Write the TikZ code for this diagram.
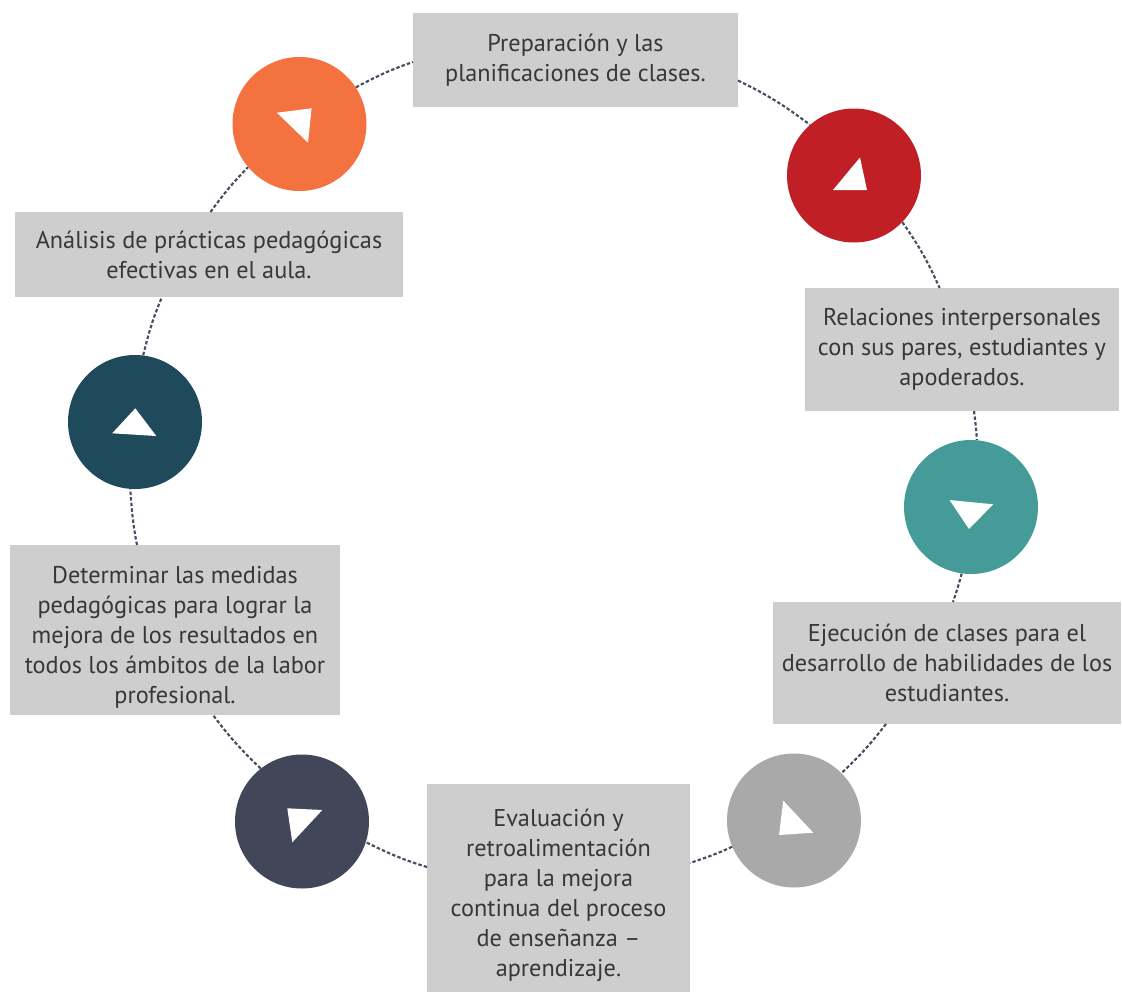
\documentclass[tikz,border=0pt]{standalone}
\usepackage{fontspec}
\setmainfont{PT Sans}
\definecolor{corange}{RGB}{243,114,64}
\definecolor{cred}{RGB}{192,31,38}
\definecolor{cteal}{RGB}{68,155,152}
\definecolor{cgray}{RGB}{169,169,169}
\definecolor{cnavy}{RGB}{65,71,88}
\definecolor{cdark}{RGB}{31,74,91}
\definecolor{cbox}{RGB}{206,206,206}
\definecolor{ctext}{RGB}{55,55,55}
\definecolor{cdash}{RGB}{70,77,96}
\newcommand{\toppad}{\rule{0pt}{24pt}}
\tikzset{
  dot/.style={circle, minimum size=134*0.75pt, inner sep=0pt, draw=none},
  infobox/.style={rectangle, fill=cbox, inner sep=0pt, align=center, text=ctext,
    font=\fontsize{18.2}{22.5}\selectfont},
  link/.style={draw=cdash, line width=1.6pt, dash pattern=on 2.6pt off 1.6pt},
  tri/.style={fill=white}
}
\begin{document}
\begin{tikzpicture}[x=0.75pt,y=0.75pt]
\useasboundingbox (0,0) rectangle (1122,-992);
% circles
\node[dot, fill=corange] (orange) at (299.5,-124) {};
\node[dot, fill=cred]    (red)    at (854,-175.5) {};
\node[dot, fill=cteal]   (teal)   at (971,-507) {};
\node[dot, fill=cgray]   (gray)   at (794,-820.5) {};
\node[dot, fill=cnavy]   (navy)   at (302,-821.5) {};
\node[dot, fill=cdark]   (dark)   at (135,-422) {};
% boxes
\node[infobox, minimum width=325*0.75pt, minimum height=94*0.75pt] (prep) at (575.5,-60)
  {Preparación y las\\planificaciones de clases.};
\node[infobox, minimum width=314*0.75pt, minimum height=123*0.75pt] (rel) at (962,-349.5)
  {Relaciones interpersonales\\con sus pares, estudiantes y\\apoderados.};
\node[infobox, minimum width=348*0.75pt, minimum height=122*0.75pt] (ejec) at (947,-663)
  {Ejecución de clases para el\\desarrollo de habilidades de los\\estudiantes.};
\node[infobox, minimum width=263*0.75pt, minimum height=208*0.75pt] (eval) at (558.5,-888)
  {\toppad Evaluación y\\retroalimentación\\para la mejora\\continua del proceso\\de enseñanza –\\aprendizaje.};
\node[infobox, minimum width=330*0.75pt, minimum height=170*0.75pt] (det) at (175,-630)
  {\toppad Determinar las medidas\\pedagógicas para lograr la\\mejora de los resultados en\\todos los ámbitos de la labor\\profesional.};
\node[infobox, minimum width=388*0.75pt, minimum height=85*0.75pt] (anal) at (209,-254.5)
  {Análisis de prácticas pedagógicas\\efectivas en el aula.};
% triangles
\fill[tri] ([shift={(-22.6,11.3)}]orange.center) -- ([shift={(12.1,15.7)}]orange.center) -- ([shift={(8.5,-18.7)}]orange.center) -- cycle;
\fill[tri] ([shift={(-21,-14.5)}]red.center) -- ([shift={(6,18)}]red.center) -- ([shift={(13,-14.5)}]red.center) -- cycle;
\fill[tri] ([shift={(-21.5,7)}]teal.center) -- ([shift={(22.2,2.7)}]teal.center) -- ([shift={(-2,-22)}]teal.center) -- cycle;
\fill[tri] ([shift={(-10.7,19.8)}]gray.center) -- ([shift={(19.3,-12.2)}]gray.center) -- ([shift={(-15,-14.5)}]gray.center) -- cycle;
\fill[tri] ([shift={(-14.7,13.2)}]navy.center) -- ([shift={(20.3,11.5)}]navy.center) -- ([shift={(-9.7,-20.8)}]navy.center) -- cycle;
\fill[tri] ([shift={(-22.8,-11.3)}]dark.center) -- ([shift={(0.3,13.7)}]dark.center) -- ([shift={(21.3,-14)}]dark.center) -- cycle;
% connector end points on box edges
\coordinate (prepL) at (413,-62);
\coordinate (prepR) at (738,-80.5);
\coordinate (relT) at (939.6,-288);
\coordinate (relB) at (974,-411);
\coordinate (ejecT) at (953,-602);
\coordinate (ejecB) at (886,-724);
\coordinate (evalR) at (690,-863);
\coordinate (evalL) at (427,-867);
\coordinate (detB) at (213,-715);
\coordinate (detT) at (137,-545);
\coordinate (analB) at (162,-297);
\coordinate (analT) at (210.5,-212);
% connectors
\draw[link] (orange.33) to[out=28,in=199] (prepL);
\draw[link] (prepR) to[out=-26,in=143] (red.131);
\draw[link] (red.316) to[out=-55,in=114] (relT);
\draw[link] (relB) to[out=-83,in=93] (teal.85);
\draw[link] (teal.262) to[out=-105,in=71] (ejecT);
\draw[link] (ejecB) to[out=-128,in=43] (gray.45);
\draw[link] (gray.203) to[out=-155,in=19] (evalR);
\draw[link] (evalL) to[out=163,in=-26] (navy.342);
\draw[link] (navy.128) to[out=136,in=-53] (detB);
\draw[link] (detT) to[out=101,in=274] (dark.266);
\draw[link] (dark.83) to[out=76,in=247] (analB);
\draw[link] (analT) to[out=54,in=226] (orange.220);
\end{tikzpicture}
\end{document}
